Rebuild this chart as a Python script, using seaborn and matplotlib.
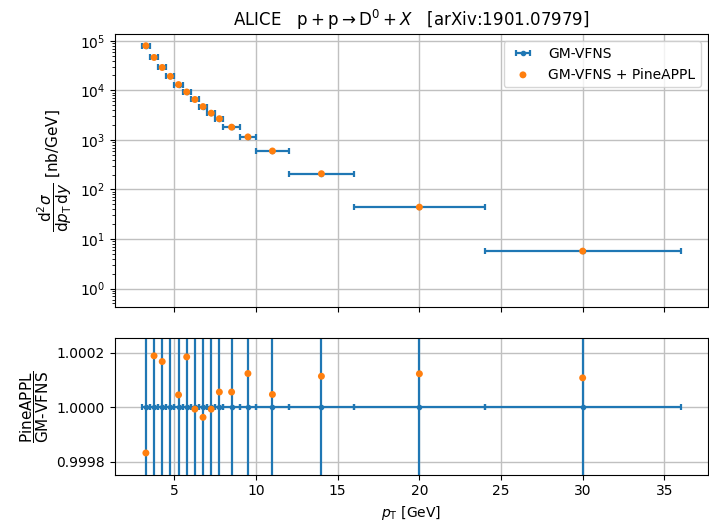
import numpy as np
import pandas as pd
import matplotlib
matplotlib.use("Agg")
import matplotlib.pyplot as plt
import seaborn as sns

# bin edges in pT [GeV]
bin_lo = [3.0, 3.5, 4.0, 4.5, 5.0, 5.5, 6.0, 6.5, 7.0, 7.5, 8.0, 9.0, 10.0, 12.0, 16.0, 24.0]
bin_hi = [3.5, 4.0, 4.5, 5.0, 5.5, 6.0, 6.5, 7.0, 7.5, 8.0, 9.0, 10.0, 12.0, 16.0, 24.0, 36.0]
# cross sections [nb/GeV]
xsec = [79600, 46200, 29000, 19200, 13100, 9290, 6550, 4710, 3470, 2680,
        1810, 1150, 598, 208, 44.0, 5.7]
# ratio PineAPPL / GM-VFNS
ratio = [0.999832, 1.000189, 1.000168, 1.000310, 1.0000455, 1.000185, 0.999993,
         0.999963, 0.999993, 1.000056, 1.000056, 1.000124, 1.000047, 1.000114,
         1.000123, 1.000108]
ratio_unc = [0.01] * 16

lo = np.array(bin_lo)
hi = np.array(bin_hi)
mid = 0.5 * (lo + hi)
half = 0.5 * (hi - lo)
df = pd.DataFrame({"pt": mid, "xsec": xsec, "ratio": ratio})

plt.rcParams["font.family"] = ["DejaVu Sans"]
fig = plt.figure(figsize=(7.09, 5.24), dpi=100)
gs = fig.add_gridspec(2, 1, height_ratios=[2, 1], hspace=0.155,
                      left=0.162, right=0.998, top=0.935, bottom=0.094)
ax1 = fig.add_subplot(gs[0])
ax2 = fig.add_subplot(gs[1], sharex=ax1)

blue = "#1f77b4"
orange = "#ff7f0e"
ekw = dict(fmt="o", ms=3, color=blue, capsize=2.5, elinewidth=1.6, capthick=1.6)

ax1.errorbar(mid, xsec, xerr=half, label="GM-VFNS", zorder=2, **ekw)
sns.scatterplot(data=df, x="pt", y="xsec", ax=ax1, color=orange, s=25,
                edgecolor="none", label="GM-VFNS + PineAPPL", zorder=3)
ax1.set_yscale("log")
ax1.set_ylim(0.43, 1.37e5)
ax1.set_ylabel(r"$\dfrac{\mathrm{d}^2\sigma}{\mathrm{d}p_\mathrm{T}\,\mathrm{d}y}$ [nb/GeV]",
               fontsize=11)
ax1.set_xlabel("")
ax1.grid(True, color="#c0c0c0", lw=1.0)
ax1.tick_params(labelbottom=False)
ax1.set_title(r"ALICE   $\mathrm{p} + \mathrm{p} \to \mathrm{D}^0 + X$   [arXiv:1901.07979]",
              fontsize=12)
h, l = ax1.get_legend_handles_labels()
order = [l.index("GM-VFNS"), l.index("GM-VFNS + PineAPPL")]
ax1.legend([h[i] for i in order], [l[i] for i in order], loc="upper right", fontsize=10)

ax2.errorbar(mid, np.ones(16), xerr=half, yerr=ratio_unc, zorder=2, **ekw)
sns.scatterplot(data=df, x="pt", y="ratio", ax=ax2, color=orange, s=25,
                edgecolor="none", zorder=3, legend=False)
ax2.set_ylim(0.999752, 1.000253)
ax2.set_yticks([0.9998, 1.0, 1.0002])
ax2.set_yticklabels(["0.9998", "1.0000", "1.0002"])
ax2.set_ylabel(r"$\dfrac{\mathrm{PineAPPL}}{\mathrm{GM}\text{-}\mathrm{VFNS}}$", fontsize=11)
ax2.set_xlabel(r"$p_\mathrm{T}$ [GeV]")
ax2.grid(True, color="#c0c0c0", lw=1.0)
ax2.set_xlim(1.35, 37.65)

fig.savefig("out.png", dpi=100)
